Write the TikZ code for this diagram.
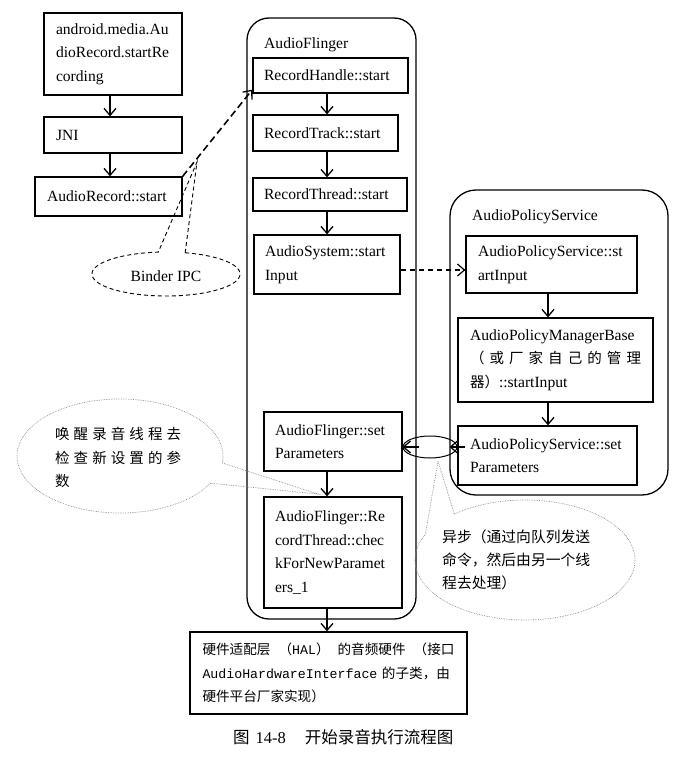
\documentclass[tikz,border=0pt]{standalone}
\usepackage{fontspec}
\setmainfont{Liberation Serif}
\newfontfamily\cjk{Noto Sans CJK SC}
\newfontfamily\cjkw[LetterSpace=28]{Noto Sans CJK SC}
\newfontfamily\monof{Liberation Mono}
\usetikzlibrary{arrows.meta,shapes.geometric}
\newcommand\fs{\fontsize{15.6}{23.5}\selectfont}
\newcommand\cj{\cjk\fontsize{14.5}{23.5}\selectfont}
\begin{document}
\begin{tikzpicture}[x=1pt,y=-1pt,
  box/.style={draw, line width=1.3pt, inner xsep=11pt, inner ysep=0pt, align=left, font=\fs},
  cont/.style={draw, line width=1.3pt, inner sep=0pt},
  lbl/.style={font=\fs, anchor=west, inner sep=0pt},
  arr/.style={-{Straight Barb[length=7pt,width=12pt]}, line width=1.3pt},
  bigdash/.style={-{Straight Barb[length=7pt,width=12pt,line width=1.3pt]}, line width=1.6pt, dash pattern=on 7pt off 4pt},
  smalldash/.style={-{Straight Barb[length=7pt,width=12pt,line width=1.2pt]}, line width=1.2pt, dash pattern=on 5pt off 4pt},
  binder/.style={draw, line width=0.9pt, dash pattern=on 4pt off 3pt},
  callout/.style={draw=black!45, densely dotted, line width=0.7pt},
  ctext/.style={align=left, anchor=west, inner sep=0pt}
]
\useasboundingbox (0,0) rectangle (678,757);
\coordinate (cL) at (110,0);
\coordinate (cA) at (327,0);
\coordinate (cP) at (548,0);

% containers
\node[cont, rounded corners=22pt, minimum width=169pt, minimum height=601pt] (af) at (331.5,318.5) {};
\node[cont, rounded corners=26pt, minimum width=218pt, minimum height=305pt] (aps) at (559,342.5) {};
\node[lbl] (aft) at (264,45) {AudioFlinger};
\node[lbl] (apst) at (472,217) {AudioPolicyService};

% left column
\node[box, inner xsep=12pt, text width=114pt, minimum height=82pt] (b1) at (113,54) {android.media.Au\\dioRecord.startRe\\cording};
\node[box, inner xsep=12pt, text width=114pt, minimum height=36pt] (jni) at (113,135) {JNI};
\node[box, inner xsep=12pt, text width=123pt, minimum height=39pt] (ars) at (108.5,196.5) {AudioRecord::start};

% AudioFlinger
\node[box, text width=133pt, minimum height=35pt] (rh) at (330.5,75.5) {RecordHandle::start};
\node[box, text width=123pt, minimum height=36pt] (rt) at (325.5,133) {RecordTrack::start};
\node[box, text width=132pt, minimum height=33pt] (rth) at (330,194.5) {RecordThread::start};
\node[box, text width=124pt, minimum height=59pt] (as) at (327,264.5) {AudioSystem::start\\Input};
\node[box, text width=116pt, minimum height=59pt] (afsp) at (333,441.5) {AudioFlinger::set\\Parameters};
\node[box, text width=116pt, minimum height=111pt] (cfnp) at (333,552.5) {AudioFlinger::Re\\cordThread::chec\\kForNewParamet\\ers\_1};

% AudioPolicyService
\node[box, inner xsep=12pt, text width=147pt, minimum height=57pt] (apsi) at (551.5,264.5) {AudioPolicyService::st\\artInput};
\node[box, inner xsep=12pt, text width=171pt, minimum height=84pt] (apmb) at (555.5,360) {AudioPolicyManagerBase\\{\cj\makebox[\linewidth]{（\hfill 或\hfill 厂\hfill 家\hfill 自\hfill 己\hfill 的\hfill 管\hfill 理}}\\{\cj 器）}::startInput};
\node[box, inner xsep=12pt, text width=155pt, minimum height=59pt] (apss) at (547.5,455.5) {AudioPolicyService::set\\Parameters};

% HAL
\node[box, inner xsep=12.5pt, text width=252pt, minimum height=82pt, font=\fontsize{13.6}{23.5}\selectfont] (hal) at (328.5,673)
{{\cjk\makebox[\linewidth]{硬件适配层\hfill（{\monof\fontsize{13.25}{23.5}\selectfont HAL}）\hfill 的音频硬件\hfill（接口}}\\
\mbox{{\monof\fontsize{13.25}{23.5}\selectfont AudioHardwareInterface} {\cjk 的子类，由}}\\
{\cjk 硬件平台厂家实现）}};

% caption
\node[anchor=west, inner sep=0pt, font=\fontsize{16.5}{20}\selectfont] (cap) at (233,737) {{\cjk 图}\hspace{6pt}14-8\hspace{19pt}{\cjk 开始录音执行流程图}};

% vertical arrows
\draw[arr] (b1.south -| cL) -- (jni.north -| cL);
\draw[arr] (jni.south -| cL) -- (ars.north -| cL);
\draw[arr] (rh.south -| cA) -- (rt.north -| cA);
\draw[arr] (rt.south -| cA) -- (rth.north -| cA);
\draw[arr] (rth.south -| cA) -- (as.north -| cA);
\draw[arr] (afsp.south -| cA) -- (cfnp.north -| cA);
\draw[arr] (cfnp.south -| cA) -- (hal.north -| cA);
\draw[arr] (apsi.south -| cP) -- (apmb.north -| cP);
\draw[arr] (apmb.south -| cP) -- (apss.north -| cP);

% dashed arrows
\draw[bigdash] (ars.north east) -- ([yshift=4pt]rh.south west);
\draw[smalldash] ([yshift=-5.5pt]as.east) -- ([yshift=-5.5pt]apsi.west);

% lens between setParameters
\node[draw, ellipse, line width=1pt, minimum width=54pt, minimum height=22pt, inner sep=0pt] (lens) at (430,447) {};
\draw[arr] ([xshift=16pt]lens.west) -- (lens.west);
\draw[arr] ([xshift=7pt]lens.east) -- ([xshift=-8pt]lens.east);

% Binder IPC callout
\coordinate (bt) at (197,162);
\draw[binder] plot[domain=285:624, samples=120] ({166+74*cos(\x)},{274+22*sin(\x)}) -- (bt) -- cycle;
\node[font=\fs, inner sep=0pt] (bipc) at (166,276) {Binder IPC};

% callout 1
\coordinate (t1) at (318,494);
\draw[callout] plot[domain=28.5:367, samples=150] ({120+103*cos(\x)},{456+57*sin(\x)}) -- (t1) -- cycle;
\node[ctext, font=\cjkw\fontsize{14.5}{23.5}\selectfont] (c1) at (55,457.5) {唤醒录音线程去\\检查新设置的参\\数};

% callout 2
\coordinate (t2) at (438,461);
\draw[callout] plot[domain=230:565, samples=150] ({525+110*cos(\x)},{560+60*sin(\x)}) -- (t2) -- cycle;
\node[ctext, font=\cjk\fontsize{14.8}{23}\selectfont] (c2) at (442,560) {异步（通过向队列发送\\命令，然后由另一个线\\程去处理）};
\end{tikzpicture}
\end{document}
